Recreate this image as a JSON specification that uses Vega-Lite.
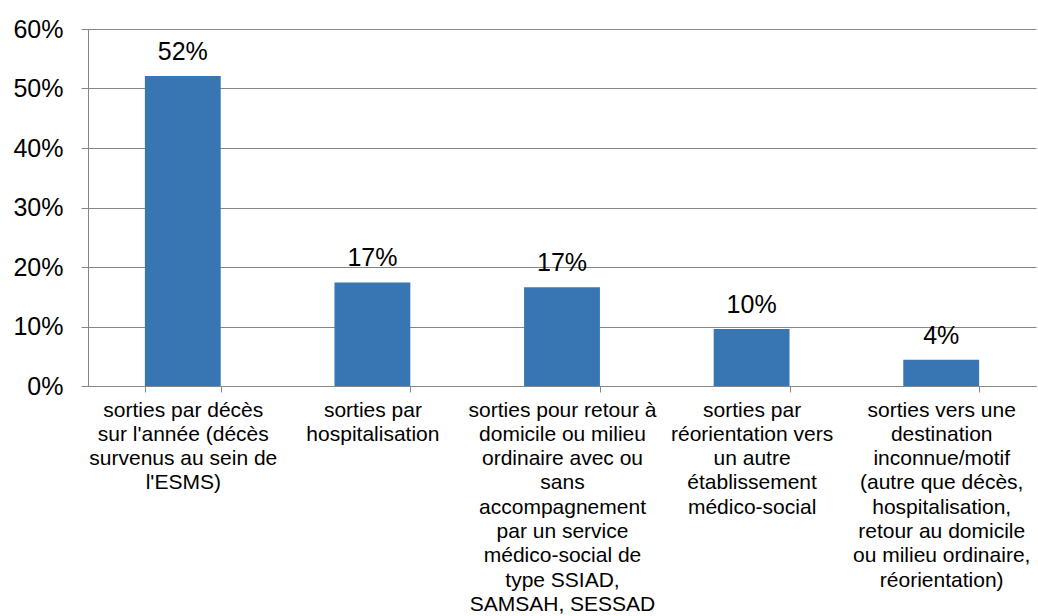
{
  "$schema": "https://vega.github.io/schema/vega-lite/v6.json",
  "width": 948,
  "height": 357,
  "autosize": {"type": "none"},
  "padding": {"left": 88, "top": 29, "right": 2, "bottom": 230},
  "background": "white",
  "config": {
    "view": {"stroke": null},
    "font": "Liberation Sans"
  },
  "data": {
    "values": [
      {"cat": "sorties par décès|sur l'année (décès|survenus au sein de|l'ESMS)", "value": 0.521},
      {"cat": "sorties par|hospitalisation", "value": 0.174},
      {"cat": "sorties pour retour à|domicile ou milieu|ordinaire avec ou|sans|accompagnement|par un service|médico-social de|type SSIAD,|SAMSAH, SESSAD", "value": 0.166},
      {"cat": "sorties par|réorientation vers|un autre|établissement|médico-social", "value": 0.096},
      {"cat": "sorties vers une|destination|inconnue/motif|(autre que décès,|hospitalisation,|retour au domicile|ou milieu ordinaire,|réorientation)", "value": 0.044}
    ]
  },
  "encoding": {
    "x": {
      "field": "cat",
      "type": "nominal",
      "sort": null,
      "scale": {"paddingInner": 0.6, "paddingOuter": 0.3},
      "axis": {
        "title": null,
        "labelAngle": 0,
        "labelExpr": "isValid(datum.value) ? split(datum.value, '|') : ''",
        "labelFont": "Liberation Sans",
        "labelFontSize": 21,
        "labelLineHeight": 24.3,
        "labelColor": "#000000",
        "labelBaseline": "top",
        "labelPadding": 7,
        "labelLimit": 0,
        "tickBand": "extent",
        "ticks": true,
        "tickSize": 6,
        "tickColor": "#868686",
        "domainColor": "#868686",
        "domainWidth": 1,
        "grid": false
      }
    },
    "y": {
      "field": "value",
      "type": "quantitative",
      "scale": {"domain": [0, 0.6], "nice": false},
      "axis": {
        "title": null,
        "values": [0, 0.1, 0.2, 0.3, 0.4, 0.5, 0.6],
        "format": ".0%",
        "labelFont": "Liberation Sans",
        "labelFontSize": 25,
        "labelColor": "#000000",
        "labelPadding": 18,
        "tickSize": 7,
        "tickColor": "#868686",
        "domainColor": "#868686",
        "grid": true,
        "gridColor": "#868686",
        "gridWidth": 1
      }
    }
  },
  "layer": [
    {"mark": {"type": "bar", "color": "#3776B2"}},
    {
      "mark": {"type": "text", "baseline": "alphabetic", "dy": -16, "fontSize": 25, "font": "Liberation Sans", "color": "#000000"},
      "encoding": {"text": {"field": "value", "type": "quantitative", "format": ".0%"}}
    }
  ]
}
